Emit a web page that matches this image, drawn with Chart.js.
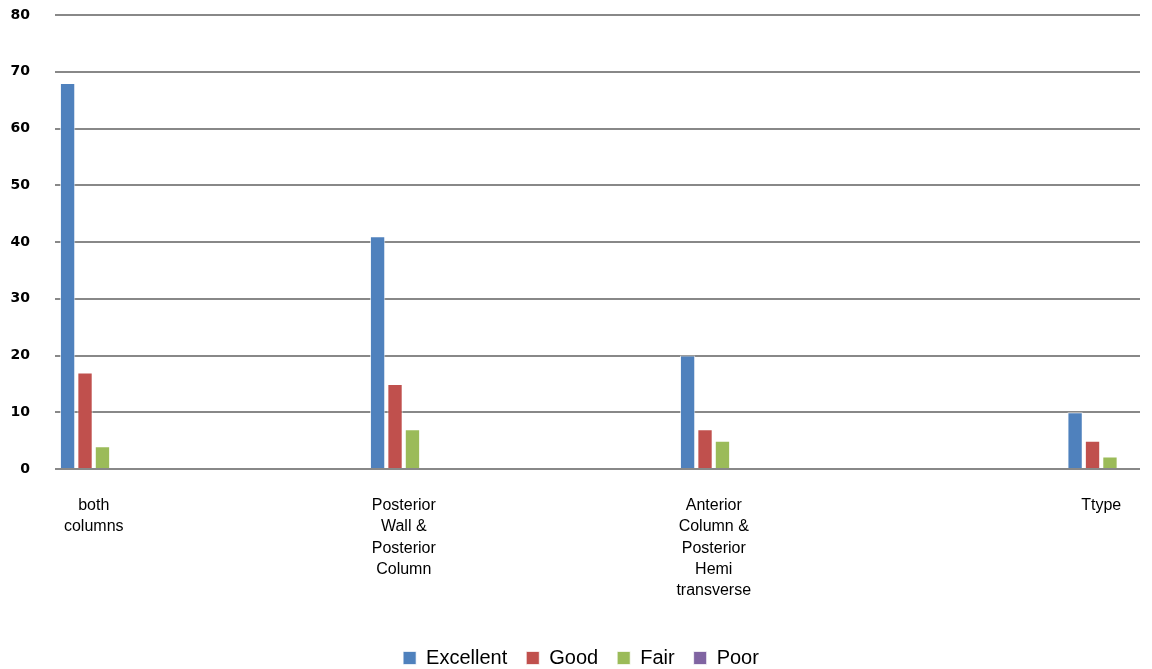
<!DOCTYPE html>
<html>
<head>
<meta charset="utf-8">
<script src="https://cdn.jsdelivr.net/npm/chart.js@4/dist/chart.umd.min.js"></script>
<style>
  html, body { margin: 0; padding: 0; background: #fff; }
  #wrap { width: 1152px; height: 669px; }
</style>
</head>
<body>
<div id="wrap"><canvas id="grafico"></canvas></div>
<script>
// categorias (as linhas vazias da planilha original ficam como '')
const categorias = [
    ['both', 'columns'], '', '', '',
    ['Posterior', 'Wall &', 'Posterior', 'Column'], '', '', '',
    ['Anterior', 'Column &', 'Posterior', 'Hemi', 'transverse'], '', '', '', '',
    ['Ttype']
];

const excellent = [68, null, null, null, 41, null, null, null, 20, null, null, null, null, 10];
const good      = [17, null, null, null, 15, null, null, null, 7,  null, null, null, null, 5];
const fair      = [4,  null, null, null, 7,  null, null, null, 5,  null, null, null, null, 2.2];
const poor      = [0,  null, null, null, 0,  null, null, null, 0,  null, null, null, null, 0];

const yTicks = [0, 10, 20, 30, 40, 50, 60, 70, 80];

document.addEventListener('DOMContentLoaded', () => {
    const serie = (label, data, cor) => ({
        label, data,
        backgroundColor: cor,
        borderColor: 'rgba(255,255,255,0.7)',
        borderWidth: 1,
        categoryPercentage: 0.9,
        barPercentage: 0.88
    });

    const ctx = document.getElementById('grafico').getContext('2d');
    new Chart(ctx, {
        type: 'bar',
        data: {
            labels: categorias,
            datasets: [
                serie('Excellent', excellent, '#4F81BD'),
                serie('Good', good, '#C0504D'),
                serie('Fair', fair, '#9BBB59'),
                serie('Poor', poor, '#8064A2')
            ]
        },
        options: {
            responsive: true,
            maintainAspectRatio: false,
            animation: false,
            layout: { padding: { top: 15, right: 0, left: 10, bottom: -9 } },
            plugins: {
                tooltip: { enabled: false },
                legend: {
                    position: 'bottom',
                    labels: {
                        boxWidth: 13,
                        boxHeight: 13,
                        padding: 19,
                        color: '#000',
                        font: { family: 'Liberation Sans', size: 20 }
                    }
                }
            },
            scales: {
                x: {
                    grid: { display: false },
                    border: { display: false },
                    ticks: {
                        autoSkip: false,
                        maxRotation: 0,
                        padding: 18,
                        color: '#000',
                        font: { family: 'Liberation Sans', size: 16, lineHeight: 1.33 }
                    },
                    afterFit: (s) => { s.height = 160; }
                },
                y: {
                    min: 0,
                    max: 80,
                    afterBuildTicks: (s) => { s.ticks = yTicks.map(v => ({ value: v })); },
                    grid: { color: '#888888', lineWidth: 2, tickLength: 25, tickColor: 'rgba(0,0,0,0)' },
                    border: { display: false },
                    ticks: {
                        padding: 0,
                        color: '#000',
                        font: { family: 'DejaVu Sans', size: 14, weight: 'bold' }
                    },
                    afterFit: (s) => { s.width = 45; }
                },
                // eixo vazio so para reservar a margem direita
                yDireita: {
                    position: 'right',
                    grid: { display: false },
                    border: { display: false },
                    ticks: { display: false },
                    afterFit: (s) => { s.width = 12; }
                }
            }
        }
    });
});
</script>
</body>
</html>
